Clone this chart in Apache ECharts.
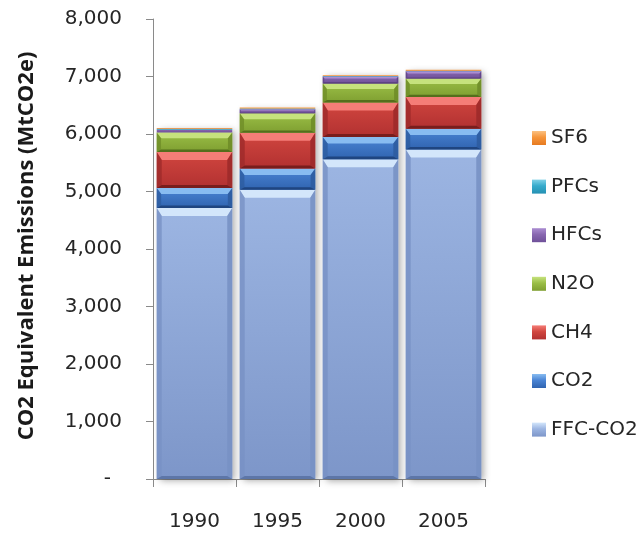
<!DOCTYPE html>
<html>
<head>
<meta charset="utf-8">
<script src="https://cdn.jsdelivr.net/npm/echarts@6/dist/echarts.min.js"></script>
<style>
  html, body { margin: 0; padding: 0; background: #ffffff; }
  #chart { width: 642px; height: 535px; }
</style>
</head>
<body>
<div id="chart"></div>
<script>
// Emissions by gas, MtCO2e
const years = ['1990', '1995', '2000', '2005'];
const ffcCO2 = [4713, 5030, 5560, 5730];
const otherCO2 = [350, 370, 390, 360];
const ch4 = [625, 620, 600, 555];
const n2o = [340, 340, 330, 320];
const hfcs = [45, 70, 120, 125];
const pfcs = [20, 15, 8, 8];
const sf6 = [12, 15, 12, 20];
const yTickLabels = ['-', '1,000', '2,000', '3,000', '4,000', '5,000', '6,000', '7,000', '8,000'];

// Stack order, bottom to top, with the bevel shades for each gas
const gases = [
  { name: 'FFC-CO2', values: ffcCO2, top: '#9cb5e2', bot: '#7d96c9', light: '#d3e6fb', side: '#7891c4', edge: '#5d76a8' },
  { name: 'CO2',     values: otherCO2, top: '#4a84d4', bot: '#3064b0', light: '#88bcf1', side: '#2d5ca0', edge: '#1f4580' },
  { name: 'CH4',     values: ch4, top: '#d1463f', bot: '#b23131', light: '#f57d77', side: '#9d2a2a', edge: '#781d1d' },
  { name: 'N2O',     values: n2o, top: '#9abe46', bot: '#7f9f31', light: '#c6e27d', side: '#6f8d28', edge: '#556e1c' },
  { name: 'HFCs',    values: hfcs, top: '#8867b0', bot: '#6f5099', light: '#ab8dd2', side: '#5e4386', edge: '#4a336c' },
  { name: 'PFCs',    values: pfcs, top: '#36abcc', bot: '#2591b3', light: '#80d1e7', side: '#1e7e9c', edge: '#186680' },
  { name: 'SF6',     values: sf6, top: '#f6963b', bot: '#e67b21', light: '#fbc181', side: '#d06a15', edge: '#b05810' }
];

// Cumulative bases for the stack
const bases = years.map(() => 0);
const stacked = gases.map(g => {
  const rows = g.values.map((v, i) => {
    const row = [i, bases[i], bases[i] + v];
    bases[i] += v;
    return row;
  });
  return rows;
});
const totals = bases.slice();

const BAR_RATIO = 0.91;

function bevelRenderer(g) {
  return function (params, api) {
    const c = api.value(0), lo = api.value(1), hi = api.value(2);
    const pTop = api.coord([c, hi]);
    const pBot = api.coord([c, lo]);
    const w = api.size([1, 0])[0] * BAR_RATIO;
    const x0 = pTop[0] - w / 2, x1 = x0 + w;
    const yT = pTop[1], yB = pBot[1];
    const h = yB - yT;
    if (h <= 0) return;
    const body = {
      type: 'rect',
      shape: { x: x0, y: yT, width: w, height: h },
      style: {
        fill: { type: 'linear', x: 0, y: 0, x2: 0, y2: 1,
          colorStops: [{ offset: 0, color: g.top }, { offset: 1, color: g.bot }] }
      }
    };
    if (h < 3) return { type: 'group', children: [body] };
    const bt = Math.min(8, h * 0.3);
    const bs = Math.min(5, h * 0.22);
    const bb = Math.min(3, h * 0.12);
    return {
      type: 'group',
      children: [
        body,
        { type: 'polygon', shape: { points: [[x0, yT], [x1, yT], [x1 - bs, yT + bt], [x0 + bs, yT + bt]] },
          style: { fill: g.light } },
        { type: 'polygon', shape: { points: [[x0, yT], [x0 + bs, yT + bt], [x0 + bs, yB - bb], [x0, yB]] },
          style: { fill: g.side, opacity: 0.8 } },
        { type: 'polygon', shape: { points: [[x1, yT], [x1 - bs, yT + bt], [x1 - bs, yB - bb], [x1, yB]] },
          style: { fill: g.side, opacity: 0.9 } },
        { type: 'polygon', shape: { points: [[x0, yB], [x0 + bs, yB - bb], [x1 - bs, yB - bb], [x1, yB]] },
          style: { fill: g.edge } }
      ]
    };
  };
}

// Soft drop shadow under each whole column
const shadowSeries = {
  type: 'custom',
  name: 'shadow',
  silent: true,
  data: totals.map((t, i) => [i, 0, t]),
  encode: { x: 0, y: [1, 2] },
  renderItem: function (params, api) {
    const c = api.value(0);
    const pTop = api.coord([c, api.value(2)]);
    const pBot = api.coord([c, api.value(1)]);
    const w = api.size([1, 0])[0] * BAR_RATIO;
    return {
      type: 'rect',
      shape: { x: pTop[0] - w / 2, y: pTop[1], width: w, height: pBot[1] - pTop[1] },
      style: { fill: '#ffffff', shadowBlur: 7, shadowOffsetX: 3, shadowOffsetY: 2, shadowColor: 'rgba(0,0,0,0.35)' }
    };
  }
};

const gasSeries = gases.map((g, k) => ({
  type: 'custom',
  name: g.name,
  silent: true,
  data: stacked[k],
  encode: { x: 0, y: [1, 2] },
  itemStyle: {
    color: { type: 'linear', x: 0, y: 0, x2: 0, y2: 1,
      colorStops: [{ offset: 0, color: g.light }, { offset: 0.45, color: g.top }, { offset: 1, color: g.bot }] }
  },
  renderItem: bevelRenderer(g)
}));

const textFont = '"DejaVu Sans", sans-serif';

const option = {
  animation: false,
  backgroundColor: '#ffffff',
  grid: { left: 153, right: 157, top: 19, bottom: 56 },
  legend: {
    orient: 'vertical',
    left: 527,
    top: 123,
    icon: 'rect',
    itemWidth: 14,
    itemHeight: 14,
    itemGap: 28.6,
    data: gases.map(g => g.name).reverse(),
    textStyle: { fontFamily: textFont, fontSize: 20, color: '#262626', lineHeight: 20 },
    selectedMode: false
  },
  xAxis: {
    type: 'category',
    data: years,
    boundaryGap: true,
    axisLine: { show: true, lineStyle: { color: '#8a8a8a', width: 1 } },
    axisTick: { show: true, length: 8, alignWithLabel: false, lineStyle: { color: '#8a8a8a' } },
    axisLabel: { margin: 33, fontFamily: textFont, fontSize: 20, color: '#262626' },
    splitLine: { show: false }
  },
  yAxis: {
    type: 'value',
    min: 0,
    max: 8000,
    interval: 1000,
    axisLine: { show: true, lineStyle: { color: '#8a8a8a', width: 1 } },
    axisTick: { show: true, length: 7, lineStyle: { color: '#8a8a8a' } },
    axisLabel: {
      margin: 31,
      fontFamily: textFont,
      fontSize: 20,
      color: '#262626',
      formatter: function (v) {
        const label = yTickLabels[Math.round(v / 1000)];
        return v === 0 ? '{z|' + label + '}' : label;
      },
      rich: { z: { fontFamily: textFont, fontSize: 20, color: '#262626', padding: [0, 11, 0, 0] } }
    },
    splitLine: { show: false }
  },
  graphic: [{
    type: 'text',
    x: 27,
    y: 246,
    rotation: Math.PI / 2,
    style: {
      text: 'CO2 Equivalent Emissions (MtCO2e)',
      font: 'bold 22px "Open Sans", sans-serif',
      fill: '#1a1a1a',
      textAlign: 'center',
      textVerticalAlign: 'middle'
    }
  }],
  series: [shadowSeries].concat(gasSeries)
};

const chart = echarts.init(document.getElementById('chart'), null, { renderer: 'canvas' });
chart.setOption(option);
</script>
</body>
</html>
